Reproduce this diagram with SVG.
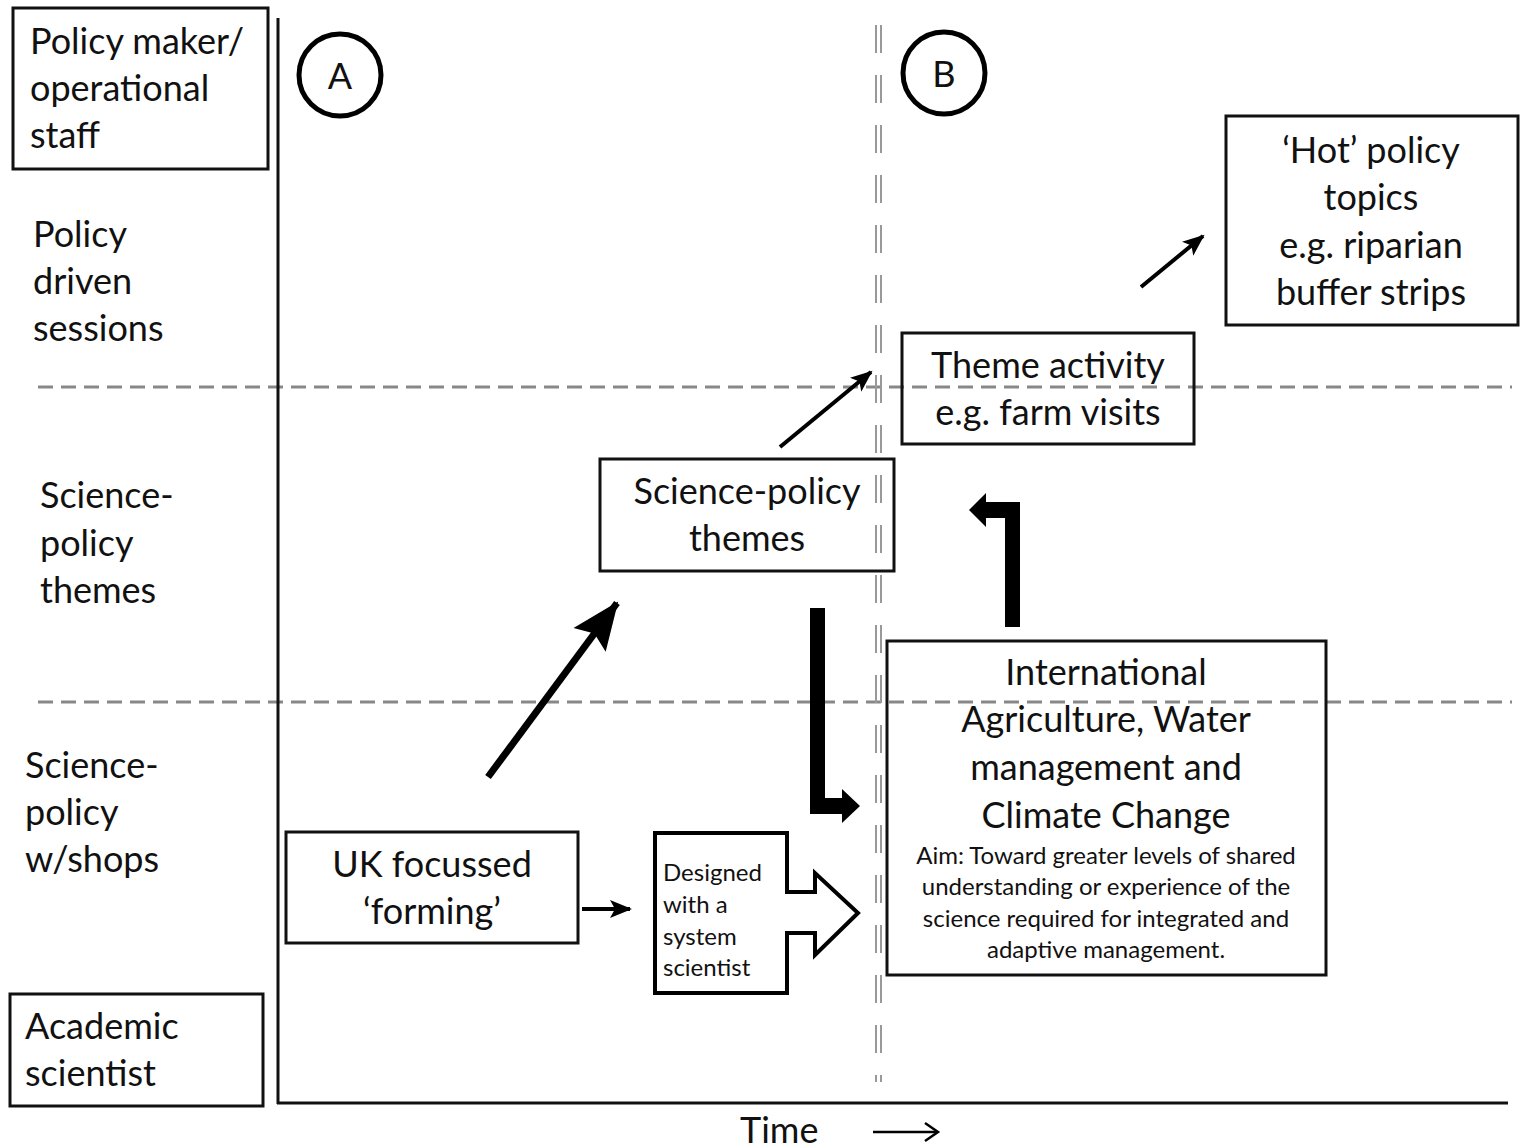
<svg xmlns="http://www.w3.org/2000/svg" width="1526" height="1148" viewBox="0 0 1526 1148">
<style>
.box{fill:none;stroke:#111;stroke-width:3}
.t{font-family:Lato,"Open Sans","Liberation Sans",sans-serif;font-size:36px;fill:#111}
.c{text-anchor:middle}
.s{font-size:24px}
.dash{stroke:#888;stroke-width:3;stroke-dasharray:15 8;fill:none}
.vd{stroke:#999;stroke-width:2;stroke-dasharray:28 22;fill:none}
.thin{stroke:#000;stroke-width:4;fill:none}
.thick{fill:#000;stroke:none}
</style>
<defs>
<marker id="ah" markerUnits="userSpaceOnUse" markerWidth="24" markerHeight="20" refX="20" refY="10" orient="auto">
<path d="M0,1 L22,10 L0,19 L5,10 Z" fill="#000"/>
</marker>
<marker id="ahBig" markerUnits="userSpaceOnUse" markerWidth="50" markerHeight="44" refX="46" refY="22" orient="auto">
<path d="M0,2 L48,22 L0,42 L8,22 Z" fill="#000"/>
</marker>
</defs>
<rect width="1526" height="1148" fill="#fff"/>

<g id="background">
<line class="dash" x1="38" y1="387" x2="1512" y2="387"/>
<line class="dash" x1="38" y1="702" x2="1512" y2="702"/>
<line class="vd" x1="876" y1="25" x2="876" y2="1082"/>
<line class="vd" x1="881" y1="25" x2="881" y2="1082"/>
<line x1="278" y1="18" x2="278" y2="1104" stroke="#111" stroke-width="3"/>
<line x1="277" y1="1103" x2="1508" y2="1103" stroke="#111" stroke-width="3"/>
</g>

<g id="row-labels">
<rect class="box" x="13" y="8" width="255" height="161"/>
<text class="t" x="30" y="54">Policy maker/</text>
<text class="t" x="30" y="101">operational</text>
<text class="t" x="30" y="148">staff</text>
<text class="t" x="33" y="247">Policy</text>
<text class="t" x="33" y="294">driven</text>
<text class="t" x="33" y="341">sessions</text>
<text class="t" x="40" y="508">Science-</text>
<text class="t" x="40" y="556">policy</text>
<text class="t" x="40" y="603">themes</text>
<text class="t" x="25" y="778">Science-</text>
<text class="t" x="25" y="825">policy</text>
<text class="t" x="25" y="872">w/shops</text>
<rect class="box" x="10" y="994" width="253" height="112"/>
<text class="t" x="25" y="1039">Academic</text>
<text class="t" x="25" y="1086">scientist</text>
</g>

<g id="phase-A">
<circle cx="340" cy="75" r="41" fill="none" stroke="#000" stroke-width="5"/>
<text class="t c" x="340" y="89" font-size="40">A</text>
</g>
<g id="phase-B">
<circle cx="944" cy="73" r="41" fill="none" stroke="#000" stroke-width="5"/>
<text class="t c" x="944" y="87" font-size="40">B</text>
</g>

<g id="hot-topics">
<rect class="box" x="1226" y="116" width="292" height="209"/>
<text class="t c" x="1371" y="163">‘Hot’ policy</text>
<text class="t c" x="1371" y="210">topics</text>
<text class="t c" x="1371" y="258">e.g.  riparian</text>
<text class="t c" x="1371" y="305">buffer strips</text>
</g>

<g id="theme-activity">
<rect class="box" x="902" y="333" width="292" height="111"/>
<text class="t c" x="1048" y="378">Theme activity</text>
<text class="t c" x="1048" y="425">e.g. farm visits</text>
</g>

<g id="science-policy-themes">
<rect class="box" x="600" y="459" width="294" height="112"/>
<text class="t c" x="747" y="504">Science-policy</text>
<text class="t c" x="747" y="551">themes</text>
</g>

<g id="international">
<rect class="box" x="887" y="641" width="439" height="334"/>
<text class="t c" x="1106" y="685">International</text>
<text class="t c" x="1106" y="732">Agriculture, Water</text>
<text class="t c" x="1106" y="780">management and</text>
<text class="t c" x="1106" y="828">Climate Change</text>
<text class="t c s" x="1106" y="864">Aim: Toward greater levels of shared</text>
<text class="t c s" x="1106" y="895">understanding or experience of the</text>
<text class="t c s" x="1106" y="927">science required for integrated and</text>
<text class="t c s" x="1106" y="958">adaptive management.</text>
</g>

<g id="uk-forming">
<rect class="box" x="286" y="832" width="292" height="111"/>
<text class="t c" x="432" y="877">UK focussed</text>
<text class="t c" x="432" y="924">‘forming’</text>
</g>

<g id="designed">
<path d="M655,833 H787 V892 H815 V873 L858,913 L815,955 V933 H787 V993 H655 Z" fill="#fff" stroke="#000" stroke-width="4" stroke-linejoin="miter"/>
<text class="t s" x="663" y="881">Designed</text>
<text class="t s" x="663" y="913">with a</text>
<text class="t s" x="663" y="945">system</text>
<text class="t s" x="663" y="976">scientist</text>
</g>

<g id="connectors">
<line class="thin" x1="1141" y1="287" x2="1203" y2="236" marker-end="url(#ah)"/>
<line class="thin" x1="780" y1="447" x2="871" y2="372" marker-end="url(#ah)"/>
<line class="thin" x1="582" y1="909" x2="630" y2="909" marker-end="url(#ah)"/>
<line x1="488" y1="777" x2="617" y2="603" stroke="#000" stroke-width="7" marker-end="url(#ahBig)"/>
<path class="thick" d="M810,608 H825 V798 H842 V789 L860,806 L842,823 V814 H810 Z"/>
<path class="thick" d="M1005,627 V518 H986 V527 L969,510 L986,493 V502 H1020 V627 Z"/>
</g>

<g id="time-axis">
<text class="t" x="740" y="1143" font-size="34">Time</text>
<line x1="873" y1="1132" x2="937" y2="1132" stroke="#000" stroke-width="2.5"/>
<path d="M925,1123 L938,1132 L925,1141" fill="none" stroke="#000" stroke-width="2.5"/>
</g>
</svg>
